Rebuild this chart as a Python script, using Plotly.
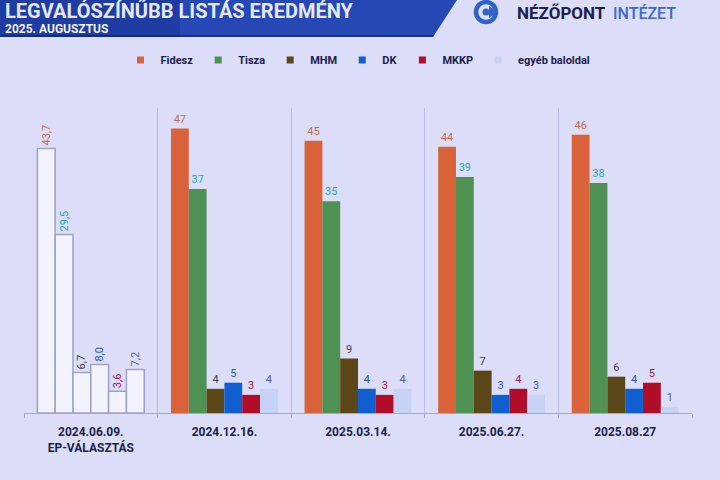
import plotly.graph_objects as go

# ---- data ----
categories = ["2024.06.09.<br>EP-VÁLASZTÁS", "2024.12.16.", "2025.03.14.", "2025.06.27.", "2025.08.27"]
parties = ["Fidesz", "Tisza", "MHM", "DK", "MKKP", "egyéb baloldal"]
fidesz = [43.7, 47, 45, 44, 46]
tisza = [29.5, 37, 35, 39, 38]
mhm = [6.7, 4, 9, 7, 6]
dk = [8.0, 5, 4, 3, 4]
mkkp = [3.6, 3, 3, 4, 5]
egyeb = [7.2, 4, 4, 3, 1]
series = [fidesz, tisza, mhm, dk, mkkp, egyeb]

bar_colors = ["#d9623b", "#4e9152", "#5b4617", "#0f5fd0", "#b00d28", "#c6d2f6"]
label_colors = ["#c26a52", "#27a2b4", "#3f3f3f", "#2a55a8", "#a8124a", "#4a64a6"]

BG = "#dcdef9"
FONT = "Roboto, Liberation Sans, sans-serif"
NAVY = "#1b2050"

# plot-area geometry in pixels (for header decorations only)
L, R, T, B = 24, 28, 108, 67
W, H = 720, 480
PW, PH = W - L - R, H - T - B


def px(x):
    return (x - L) / PW


def py(y):
    return (H - B - y) / PH


fig = go.Figure()

for i, (name, vals) in enumerate(zip(parties, series)):
    # EP election (outlined bars, rotated labels)
    fig.add_trace(go.Bar(
        x=[categories[0]], y=[vals[0]], name=name, offsetgroup=str(i),
        showlegend=False,
        marker=dict(color="#f3f3fd", line=dict(color="#9ea2c6", width=1.5)),
        text=[f"{vals[0]:.1f}".replace(".", ",")], textposition="outside",
        textangle=-90, constraintext="none", cliponaxis=False,
        textfont=dict(color=label_colors[i], size=11, family=FONT),
        hoverinfo="skip",
    ))
    # polls
    fig.add_trace(go.Bar(
        x=categories[1:], y=vals[1:], name=name, offsetgroup=str(i),
        showlegend=False,
        marker=dict(color=bar_colors[i], line=dict(width=0)),
        text=[f"{v:g}" for v in vals[1:]], textposition="outside",
        textangle=0, constraintext="none", cliponaxis=False,
        textfont=dict(color=label_colors[i], size=11, family=FONT),
    ))
    # legend entry
    fig.add_trace(go.Scatter(
        x=[None], y=[None], mode="markers", name=name,
        marker=dict(symbol="square", size=7, color=bar_colors[i]),
        showlegend=True,
    ))

shapes = []
# header banner
shapes.append(dict(type="path", xref="paper", yref="paper",
                   path=f"M {px(0)},{py(0)} L {px(457)},{py(0)} L {px(433)},{py(37)} L {px(0)},{py(37)} Z",
                   fillcolor="#2548b5", line=dict(width=0), layer="above"))
shapes.append(dict(type="path", xref="paper", yref="paper",
                   path=f"M {px(0)},{py(0)} L {px(180)},{py(0)} L {px(180)},{py(37)} L {px(0)},{py(37)} Z",
                   fillcolor="rgba(20,40,130,0.35)", line=dict(width=0), layer="above"))
shapes.append(dict(type="path", xref="paper", yref="paper",
                   path=f"M {px(0)},{py(35)} L {px(434.3)},{py(35)} L {px(433)},{py(37)} L {px(0)},{py(37)} Z",
                   fillcolor="rgba(15,30,110,0.6)", line=dict(width=0), layer="above"))
# logo icon
cx, cy, r = 486, 12, 10
shapes.append(dict(type="circle", xref="paper", yref="paper",
                   x0=px(cx - r), x1=px(cx + r), y0=py(cy + r), y1=py(cy - r),
                   line=dict(color="#2f63c9", width=4.5), fillcolor="rgba(0,0,0,0)", layer="above"))
shapes.append(dict(type="path", xref="paper", yref="paper",
                   path=f"M {px(489)},{py(6)} L {px(498)},{py(12)} L {px(489)},{py(18)} Z",
                   fillcolor="#2f63c9", line=dict(width=0), layer="above"))
shapes.append(dict(type="circle", xref="paper", yref="paper",
                   x0=px(cx - 3.5), x1=px(cx + 3.5), y0=py(cy + 3.5), y1=py(cy - 3.5),
                   fillcolor="#2f63c9", line=dict(width=0), layer="above"))

annotations = [
    dict(text="LEGVALÓSZÍNŰBB LISTÁS EREDMÉNY", x=px(4), y=py(11.5), xref="paper", yref="paper",
         xanchor="left", yanchor="middle", showarrow=False, borderpad=0,
         font=dict(family=FONT, size=20, color="#e4e7ff", weight=700)),
    dict(text="2025. AUGUSZTUS", x=px(4), y=py(29), xref="paper", yref="paper",
         xanchor="left", yanchor="middle", showarrow=False, borderpad=0,
         font=dict(family=FONT, size=12, color="#f0f2ff", weight=700)),
    dict(text="NÉZŐPONT", x=px(515), y=py(13), xref="paper", yref="paper",
         xanchor="left", yanchor="middle", showarrow=False,
         font=dict(family=FONT, size=17, color="#1b2150", weight=700)),
    dict(text="INTÉZET", x=px(611), y=py(13), xref="paper", yref="paper",
         xanchor="left", yanchor="middle", showarrow=False,
         font=dict(family=FONT, size=16, color="#3a6ad0", weight=500)),
]

fig.update_layout(
    width=W, height=H,
    margin=dict(l=L, r=R, t=T, b=B, pad=0),
    paper_bgcolor=BG, plot_bgcolor=BG,
    barmode="group", bargap=0.2, bargroupgap=0,
    font=dict(family=FONT, color=NAVY),
    showlegend=True,
    legend=dict(orientation="h", x=0.5, xanchor="center", y=py(60), yanchor="middle",
                font=dict(family=FONT, size=11, color=NAVY, weight=700),
                bgcolor="rgba(0,0,0,0)", itemwidth=30, tracegroupgap=0),
    xaxis=dict(type="category", categoryorder="array", categoryarray=categories,
               tickson="boundaries", showgrid=True, gridcolor="#b6badf", gridwidth=1,
               ticks="outside", ticklen=4, tickcolor="#a4a8cf",
               ticklabelstandoff=8,
               showline=True, linecolor="#a4a8cf", linewidth=1,
               tickfont=dict(family=FONT, size=12, color=NAVY, weight=700),
               fixedrange=True, zeroline=False),
    yaxis=dict(range=[0, 50.4], visible=False, fixedrange=True),
    shapes=shapes, annotations=annotations,
)

fig.write_html("out.html")
